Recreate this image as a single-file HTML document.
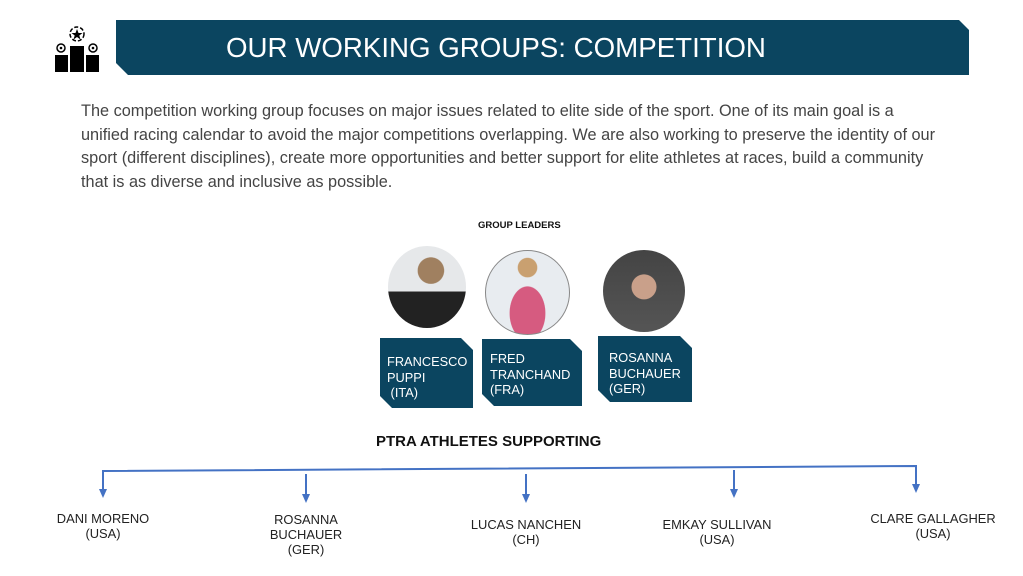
<!DOCTYPE html>
<html><head><meta charset="utf-8"><style>
body{margin:0;width:1023px;height:576px;background:#fff;position:relative;overflow:hidden;font-family:"Liberation Sans",Arial,sans-serif;}
.a{position:absolute;}
.hdr{left:116px;top:20px;width:853px;height:55px;background:#0b4560;clip-path:polygon(0 0,843px 0,853px 10px,853px 55px,12px 55px,0 43px);color:#fff;font-size:27.7px;line-height:55px;text-indent:110px;}
.p{left:81px;top:100px;width:858px;font-size:16.3px;line-height:23.5px;color:#444;}
.box{background:#0b4560;color:#fff;font-size:12.8px;line-height:15.5px;clip-path:polygon(0 0,calc(100% - 12px) 0,100% 12px,100% 100%,12px 100%,0 calc(100% - 12px));box-sizing:border-box;}
.c{border-radius:50%;position:absolute;overflow:hidden;}
.n{font-size:12.9px;line-height:15px;color:#222;text-align:center;width:160px;}
</style></head><body>
<svg class="a" style="left:52px;top:22px" width="50" height="52" viewBox="0 0 50 52">
<circle cx="25" cy="12" r="7" fill="none" stroke="#000" stroke-width="1.5" stroke-dasharray="4 2"/>
<polygon points="25,7 26.5,11 30.5,11 27.3,13.5 28.5,17.5 25,15 21.5,17.5 22.7,13.5 19.5,11 23.5,11" fill="#000"/>
<circle cx="9" cy="26" r="4" fill="none" stroke="#000" stroke-width="1.5"/><circle cx="9" cy="26" r="1.3" fill="#000"/>
<circle cx="41" cy="26" r="4" fill="none" stroke="#000" stroke-width="1.5"/><circle cx="41" cy="26" r="1.3" fill="#000"/>
<rect x="18" y="24" width="14" height="26" fill="#000"/><rect x="3" y="33" width="13" height="17" fill="#000"/><rect x="34" y="33" width="13" height="17" fill="#000"/>
</svg>
<div class="a hdr">OUR WORKING GROUPS: COMPETITION</div>
<div class="a p">The competition working group focuses on major issues related to elite side of the sport. One of its main goal is a unified racing calendar to avoid the major competitions overlapping. We are also working to preserve the identity of our sport (different disciplines), create more opportunities and better support for elite athletes at races, build a community that is as diverse and inclusive as possible.</div>
<div class="a" style="left:478px;top:220px;font-size:9.5px;font-weight:bold;color:#111">GROUP LEADERS</div>
<div class="c" style="left:388px;top:246px;width:78px;height:82px;background:radial-gradient(circle at 55% 30%,#a08060 0 18%,transparent 19%),linear-gradient(#e6e8ea 0 55%,#222 56%);"></div>
<div class="c" style="left:485px;top:250px;width:83px;height:83px;border:1px solid #888;background:radial-gradient(circle at 50% 20%,#c9a070 0 12%,transparent 13%),radial-gradient(ellipse at 50% 75%,#d65b80 0 30%,transparent 31%),#e8ecf0;"></div>
<div class="c" style="left:603px;top:250px;width:82px;height:82px;background:radial-gradient(circle at 50% 45%,#c9a08a 0 20%,transparent 21%),linear-gradient(#444,#555);"></div>
<div class="a box" style="left:380px;top:338px;width:93px;height:70px;padding:16px 0 0 7px">FRANCESCO<br>PUPPI<br>&nbsp;(ITA)</div>
<div class="a box" style="left:482px;top:339px;width:100px;height:67px;padding:12px 0 0 8px">FRED<br>TRANCHAND<br>(FRA)</div>
<div class="a box" style="left:598px;top:336px;width:94px;height:66px;padding:14px 0 0 11px">ROSANNA<br>BUCHAUER<br>(GER)</div>
<div class="a" style="left:376px;top:433px;font-size:15px;font-weight:bold;color:#111">PTRA ATHLETES SUPPORTING</div>
<svg class="a" style="left:0;top:0" width="1023" height="576">
<g stroke="#4472c4" stroke-width="2" fill="none">
<polyline points="103,490 103,471 916,466 916,485"/>
<line x1="306" y1="474" x2="306" y2="495"/><line x1="526" y1="474" x2="526" y2="495"/><line x1="734" y1="470" x2="734" y2="490"/>
</g>
<g fill="#4472c4">
<polygon points="99,489 107,489 103,498"/><polygon points="302,494 310,494 306,503"/><polygon points="522,494 530,494 526,503"/><polygon points="730,489 738,489 734,498"/><polygon points="912,484 920,484 916,493"/>
</g>
</svg>
<div class="a n" style="left:23px;top:511px">DANI MORENO<br>(USA)</div>
<div class="a n" style="left:226px;top:512px">ROSANNA<br>BUCHAUER<br>(GER)</div>
<div class="a n" style="left:446px;top:517px">LUCAS NANCHEN<br>(CH)</div>
<div class="a n" style="left:637px;top:517px">EMKAY SULLIVAN<br>(USA)</div>
<div class="a n" style="left:853px;top:511px">CLARE GALLAGHER<br>(USA)</div>
</body></html>
